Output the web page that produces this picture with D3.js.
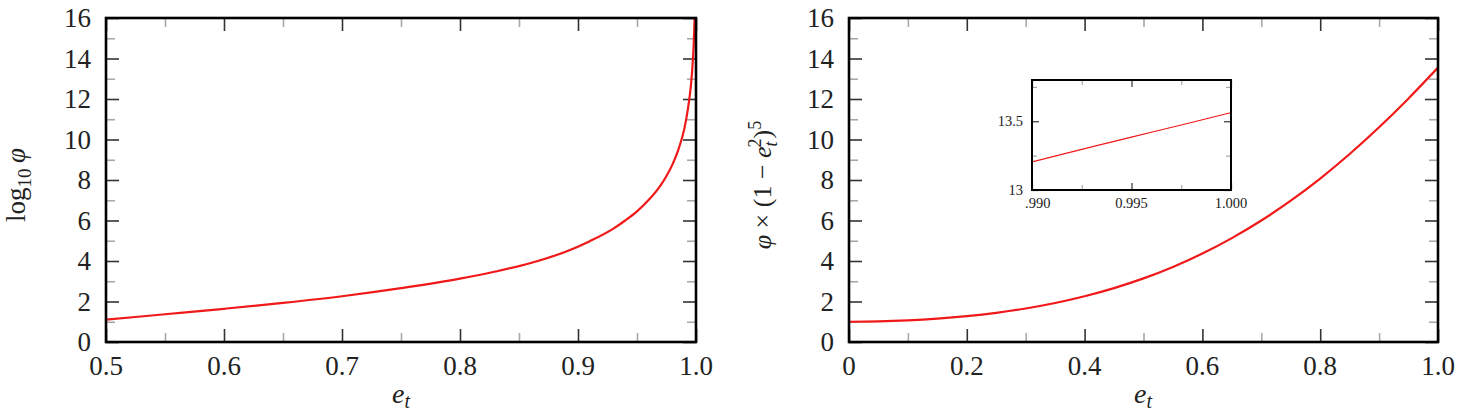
<!DOCTYPE html>
<html><head><meta charset="utf-8">
<script src="https://cdn.jsdelivr.net/npm/d3@7"></script>
<style>
body{margin:0;background:#fff}
svg{display:block}
text{font-family:"Liberation Serif","Times New Roman",serif;fill:#222}
</style>
</head><body>
<svg id="c" width="1462" height="413"></svg>
<script>
// ---- data ----
const leftE   = [0.50,0.55,0.60,0.65,0.70,0.75,0.80,0.83,0.86,0.89,0.91,0.93,0.94,0.95,0.96,0.97,0.975,0.98,0.985,0.99,0.993,0.995,0.996,0.997,0.998,0.9985,0.999];
const leftLog = [1.10,1.37,1.64,1.93,2.26,2.66,3.13,3.48,3.90,4.47,4.98,5.60,6.00,6.45,7.02,7.74,8.20,8.76,9.49,10.50,11.45,12.30,12.87,13.60,14.64,15.38,16.42];

const rightE   = [0,0.05,0.10,0.15,0.20,0.25,0.30,0.35,0.40,0.45,0.50,0.55,0.60,0.65,0.70,0.75,0.80,0.85,0.90,0.95,1.00];
const rightVal = [1.000,1.016,1.066,1.151,1.274,1.440,1.656,1.926,2.258,2.661,3.141,3.708,4.368,5.131,5.999,6.979,8.073,9.282,10.602,12.028,13.550];

const insetE   = [0.990,0.9925,0.995,0.9975,1.000];
const insetVal = [13.205,13.295,13.385,13.473,13.563];

const leftXTicks = [0.5,0.6,0.7,0.8,0.9,1.0];
const leftXLabels = ["0.5","0.6","0.7","0.8","0.9","1.0"];
const leftXMinor = [0.55,0.65,0.75,0.85,0.95];
const yTicks = [0,2,4,6,8,10,12,14,16];
const yLabels = ["0","2","4","6","8","10","12","14","16"];
const yMinor = [1,3,5,7,9,11,13,15];
const rightXTicks = [0,0.2,0.4,0.6,0.8,1.0];
const rightXLabels = ["0","0.2","0.4","0.6","0.8","1.0"];
const rightXMinor = [0.1,0.3,0.5,0.7,0.9];
const insetXTicks = [0.99,0.995,1.0];
const insetXLabels = [".990","0.995","1.000"];
const insetXMinor = [0.9925,0.9975];
const insetYTicks = [13,13.5];
const insetYLabels = ["13","13.5"];
const insetYMinor = [13.25,13.75];

const SERIF = '"Liberation Serif","Times New Roman",serif';
const svg = d3.select("#c");
const RED = "#f01818";

function panel(o){
  const g = svg.append("g");
  const x = d3.scaleLinear().domain(o.xd).range([o.l,o.r]);
  const y = d3.scaleLinear().domain(o.yd).range([o.b,o.t]);
  const clipId = "clip"+Math.round(o.l);
  svg.append("clipPath").attr("id",clipId).append("rect")
    .attr("x",o.l).attr("y",o.t).attr("width",o.r-o.l).attr("height",o.b-o.t);
  if(o.bg) g.append("rect").attr("x",o.l).attr("y",o.t).attr("width",o.r-o.l).attr("height",o.b-o.t).attr("fill","#fff");
  function ax(gen, tr, vals, size, col){
    const a = gen.tickValues(vals).tickSize(-size).tickFormat("");
    const s = g.append("g").attr("transform",tr).call(a);
    s.select(".domain").remove();
    s.selectAll(".tick line").attr("stroke",col).attr("stroke-width",o.tw);
    return s;
  }
  // minor ticks
  ax(d3.axisBottom(x),`translate(0,${o.b})`,o.xMinor,o.minor,"#a8a8a8");
  ax(d3.axisTop(x),`translate(0,${o.t})`,o.xMinor,o.minor,"#a8a8a8");
  ax(d3.axisLeft(y),`translate(${o.l},0)`,o.yMinor,o.minor,"#a8a8a8");
  ax(d3.axisRight(y),`translate(${o.r},0)`,o.yMinor,o.minor,"#a8a8a8");
  // major ticks
  ax(d3.axisBottom(x),`translate(0,${o.b})`,o.xTicks,o.major,"#333");
  ax(d3.axisTop(x),`translate(0,${o.t})`,o.xTicks,o.major,"#333");
  ax(d3.axisLeft(y),`translate(${o.l},0)`,o.yTicks,o.major,"#333");
  ax(d3.axisRight(y),`translate(${o.r},0)`,o.yTicks,o.major,"#333");
  // tick labels
  g.append("g").selectAll("text").data(o.xTicks).join("text")
    .attr("x",(d,i)=>x(d)+(o.firstXShift && i===0 ? o.firstXShift : 0))
    .attr("y",o.b+o.xlab)
    .attr("text-anchor",(d,i)=>(o.firstXShift && i===0) ? "start" : "middle")
    .attr("font-size",o.fs).attr("font-family",SERIF).attr("fill","#222")
    .text((d,i)=>o.xLabels[i]);
  g.append("g").selectAll("text").data(o.yTicks).join("text")
    .attr("x",o.l-o.ylab).attr("y",d=>y(d)).attr("dy","0.34em")
    .attr("text-anchor","end").attr("font-size",o.fs).attr("font-family",SERIF).attr("fill","#222")
    .text((d,i)=>o.yLabels[i]);
  // curve
  const pts = o.xs.map((e,i)=>[e,o.ys[i]]);
  g.append("path").datum(pts).attr("clip-path",`url(#${clipId})`)
    .attr("fill","none").attr("stroke",RED).attr("stroke-width",o.lw)
    .attr("d",d3.line().x(d=>x(d[0])).y(d=>y(d[1])).curve(d3.curveMonotoneX));
  // frame
  g.append("rect").attr("x",o.l).attr("y",o.t).attr("width",o.r-o.l).attr("height",o.b-o.t)
    .attr("fill","none").attr("stroke","#000").attr("stroke-width",o.fw);
  return {x,y,g};
}

panel({l:106,r:696,t:18,b:342,xd:[0.5,1.0],yd:[0,16],
  xTicks:leftXTicks,xLabels:leftXLabels,xMinor:leftXMinor,
  yTicks:yTicks,yLabels:yLabels,yMinor:yMinor,
  major:13,minor:9,tw:1.6,fs:27,xlab:33,ylab:15,lw:2.2,fw:2.6,
  xs:leftE,ys:leftLog});

panel({l:849,r:1438,t:18,b:342,xd:[0,1],yd:[0,16],
  xTicks:rightXTicks,xLabels:rightXLabels,xMinor:rightXMinor,
  yTicks:yTicks,yLabels:yLabels,yMinor:yMinor,
  major:13,minor:9,tw:1.6,fs:27,xlab:33,ylab:15,lw:2.2,fw:2.6,
  xs:rightE,ys:rightVal});

panel({l:1032,r:1231,t:80,b:190,xd:[0.99,1.0],yd:[13,13.8],bg:true,
  xTicks:insetXTicks,xLabels:insetXLabels,xMinor:insetXMinor,
  yTicks:insetYTicks,yLabels:insetYLabels,yMinor:insetYMinor,
  major:7,minor:5,tw:1.2,fs:14.5,xlab:18,ylab:9,lw:1.2,fw:2,firstXShift:-7,
  xs:insetE,ys:insetVal});

// axis titles
function etLabel(cx, base){
  const t = svg.append("text").attr("x",cx).attr("y",base).attr("text-anchor","middle")
    .attr("font-size",28).attr("font-family",SERIF);
  t.append("tspan").attr("font-style","italic").text("e");
  t.append("tspan").attr("font-style","italic").attr("font-size",20).attr("dy",5).text("t");
}
etLabel(401,403);
etLabel(1143,403);

const ly = svg.append("text").attr("transform","translate(25,185) rotate(-90)")
  .attr("text-anchor","middle").attr("font-size",27).attr("font-family",SERIF);
ly.append("tspan").text("log");
ly.append("tspan").attr("font-size",19).attr("dy",6).text("10");
ly.append("tspan").attr("dy",-6).text("\u2009");
ly.append("tspan").attr("font-style","italic").text("φ");

const ry = svg.append("text").attr("transform","translate(771,185) rotate(-90)")
  .attr("text-anchor","middle").attr("font-size",26).attr("font-family",SERIF);
ry.append("tspan").attr("font-style","italic").text("φ");
ry.append("tspan").text(" × (1 − ");
ry.append("tspan").attr("font-style","italic").text("e");
ry.append("tspan").attr("font-style","italic").attr("font-size",18).attr("dy",6).text("t");
ry.append("tspan").attr("font-size",18).attr("dx",-6).attr("dy",-16).text("2");
ry.append("tspan").attr("dy",10).text(")");
ry.append("tspan").attr("font-size",18).attr("dy",-10).text("5");
</script>
</body></html>
